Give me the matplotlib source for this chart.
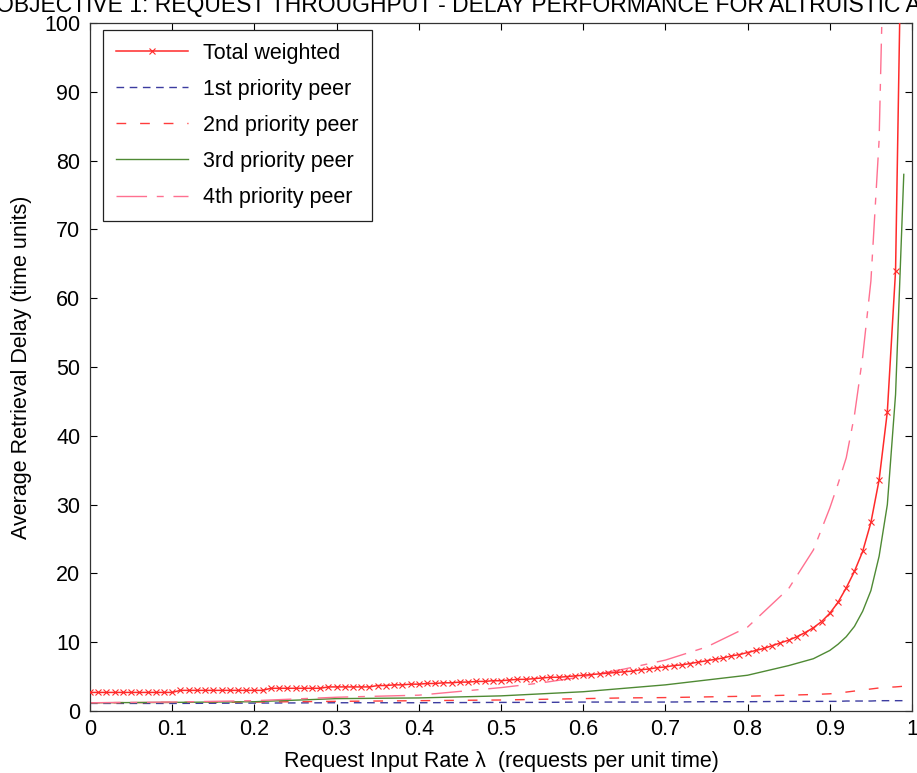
import numpy as np
import matplotlib
matplotlib.use("Agg")
import matplotlib.pyplot as plt

plt.rcParams['font.family'] = ['Liberation Sans', 'DejaVu Sans']

# request input rate (fine grid for the weighted total, coarse for each peer)
lam_total = np.round(np.arange(0, 1.0, 0.01), 2)
total_weighted = [
    2.7, 2.7, 2.7, 2.7, 2.7, 2.7, 2.7, 2.7, 2.7, 2.7, 2.7,
    3.0, 3.0, 3.0, 3.0, 3.0, 3.0, 3.0, 3.0, 3.0, 3.0, 3.0,
    3.3, 3.3, 3.3, 3.3, 3.3, 3.3, 3.3,
    3.5, 3.5, 3.5, 3.5, 3.5, 3.5,
    3.7, 3.7, 3.8, 3.8, 3.9, 3.9,
    4.0, 4.0, 4.1, 4.1, 4.2, 4.2, 4.3, 4.3, 4.4, 4.4,
    4.5, 4.6, 4.6, 4.7, 4.8, 4.9, 4.9, 5.0, 5.1, 5.2,
    5.3, 5.4, 5.5, 5.6, 5.7, 5.8, 6.0, 6.1, 6.3, 6.4,
    6.6, 6.7, 6.9, 7.1, 7.3, 7.5, 7.7, 8.0, 8.2, 8.5,
    8.8, 9.1, 9.5, 9.9, 10.3, 10.8, 11.4, 12.1, 13.0, 14.2,
    15.8, 17.9, 20.3, 23.2, 27.4, 33.6, 43.5, 64.0, 136.0,
]

lam_peer = [0, 0.1, 0.2, 0.3, 0.4, 0.5, 0.55, 0.6, 0.65, 0.7, 0.75, 0.8,
            0.85, 0.88, 0.9, 0.91, 0.92, 0.93, 0.94, 0.95, 0.96, 0.97,
            0.98, 0.99]
peer1 = [1.1, 1.1, 1.15, 1.2, 1.2, 1.25, 1.25, 1.3, 1.3, 1.3, 1.35, 1.35,
         1.4, 1.4, 1.4, 1.4, 1.45, 1.45, 1.45, 1.45, 1.5, 1.5, 1.5, 1.5]
peer2 = [1.2, 1.25, 1.3, 1.4, 1.5, 1.6, 1.7, 1.8, 1.9, 1.95, 2.05, 2.15,
         2.3, 2.4, 2.5, 2.6, 2.75, 2.9, 3.05, 3.2, 3.35, 3.45, 3.5, 3.6]
peer3 = [1.2, 1.25, 1.35, 1.8, 1.9, 2.2, 2.5, 2.8, 3.3, 3.8, 4.5, 5.2,
         6.6, 7.6, 8.8, 9.7, 10.8, 12.3, 14.5, 17.5, 22.5, 30.0, 46.0, 78.0]
peer4 = [1.2, 1.3, 1.5, 2.0, 2.3, 3.4, 4.1, 5.0, 6.1, 7.4, 9.3, 12.2,
         17.8, 23.4, 29.5, 33.0, 36.8, 43.0, 51.5, 62.5, 83.0, 135.0,
         250.0, 600.0]

x_ticks = [0, 0.1, 0.2, 0.3, 0.4, 0.5, 0.6, 0.7, 0.8, 0.9, 1]
x_ticklabels = ['0', '0.1', '0.2', '0.3', '0.4', '0.5', '0.6', '0.7',
                '0.8', '0.9', '1']
y_ticks = list(range(0, 101, 10))

fs = 15.5

fig = plt.figure(figsize=(9.17, 7.73), dpi=100)
ax = fig.add_axes([90 / 917, 62 / 773, 822 / 917, 688 / 773])

ax.plot(lam_total, total_weighted, color='#ff2a2a', lw=1.1, marker='x',
        ms=4, mew=0.8, label='Total weighted', zorder=5)
ax.plot(lam_peer, peer1, color='#3c3ca0', lw=1.0, dashes=(5.5, 4),
        label='1st priority peer')
ax.plot(lam_peer, peer2, color='#ff3c3c', lw=1.0, dashes=(7, 10),
        label='2nd priority peer')
ax.plot(lam_peer, peer3, color='#4f8a34', lw=1.0,
        label='3rd priority peer')
ax.plot(lam_peer, peer4, color='#ff7090', lw=1.0, dashes=(22, 7, 5, 7),
        label='4th priority peer')

ax.set_xlim(0, 1)
ax.set_ylim(0, 100)
ax.set_xticks(x_ticks)
ax.set_xticklabels(x_ticklabels)
ax.set_yticks(y_ticks)
ax.tick_params(direction='in', length=5, labelsize=fs, top=True, right=True)
ax.tick_params(axis='x', pad=6)
ax.tick_params(axis='y', pad=7)
for s in ax.spines.values():
    s.set_linewidth(0.9)
    s.set_color('#333333')

ax.set_xlabel('Request Input Rate \u03bb  (requests per unit time)',
              fontsize=fs, labelpad=8)
ax.set_ylabel('Average Retrieval Delay (time units)', fontsize=fs,
              labelpad=9)

leg = ax.legend(loc='upper left', bbox_to_anchor=(0.016, 0.99),
                borderaxespad=0, fontsize=fs, handlelength=3.35,
                labelspacing=0.7, borderpad=0.6, handletextpad=0.7,
                fancybox=False, framealpha=1)
leg.get_frame().set_edgecolor('#222222')
leg.get_frame().set_linewidth(0.9)

# running page header, cut by the top edge
fig.text(-0.004, 1 - 12 / 773, 'OBJECTIVE 1: REQUEST THROUGHPUT - DELAY '
         'PERFORMANCE FOR ALTRUISTIC APPROACH', fontsize=16.5, ha='left',
         va='baseline')

fig.savefig('out.png', dpi=100)
